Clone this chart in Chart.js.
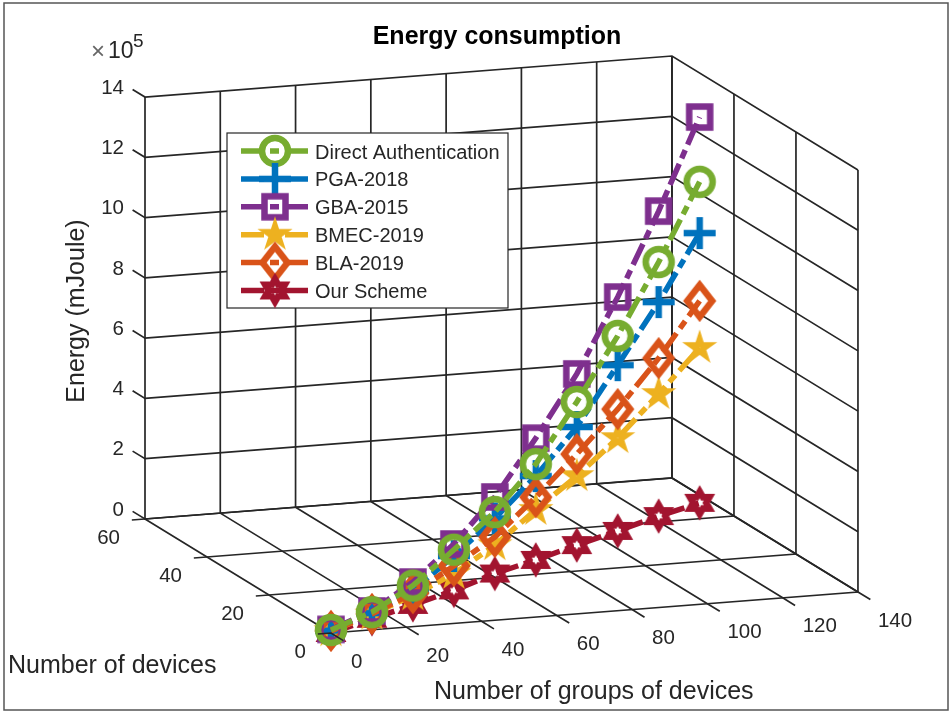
<!DOCTYPE html>
<html>
<head>
<meta charset="utf-8">
<title>Energy consumption</title>
<script src="https://cdn.jsdelivr.net/npm/chart.js@4"></script>
<style>
html, body { margin: 0; padding: 0; background: #fff; }
canvas { display: block; }
</style>
</head>
<body>
<canvas id="chart" width="949" height="711"></canvas>
<script>
// values
const groups = [0, 15, 30, 45, 60, 75, 90, 105, 120, 135];
const devices = [0, 5, 10, 15, 20, 25, 30, 35, 40, 45];

const directAuth = [0.10, 0.23, 0.65, 1.38, 2.17, 3.30, 4.90, 6.63, 8.62, 10.82];
const pga2018 = [0.08, 0.20, 0.50, 1.17, 1.96, 2.90, 4.07, 5.66, 7.29, 9.12];
const gba2015 = [0.12, 0.27, 0.77, 1.57, 2.67, 4.16, 5.83, 7.92, 10.31, 12.97];
const bmec2019 = [0.06, 0.15, 0.33, 0.58, 1.07, 1.78, 2.44, 3.24, 4.24, 5.31];
const bla2019 = [0.07, 0.17, 0.40, 0.84, 1.34, 2.20, 3.17, 4.20, 5.43, 6.87];
const ourScheme = [0.00, 0.01, 0.01, 0.03, 0.13, 0.12, 0.15, 0.16, 0.19, 0.17];

const xTicks = [0, 20, 40, 60, 80, 100, 120, 140];
const yTicks = [0, 20, 40, 60];
const zTicks = [0, 2, 4, 6, 8, 10, 12, 14];

const seriesNames = ['Direct Authentication', 'PGA-2018', 'GBA-2015', 'BMEC-2019', 'BLA-2019', 'Our Scheme'];
const seriesValues = [directAuth, pga2018, gba2015, bmec2019, bla2019, ourScheme];
const seriesColors = ['#77ac30', '#0072bd', '#7e2f8e', '#edb120', '#d95319', '#a2142f'];
const seriesMarkers = ['circle', 'plus', 'square', 'pentagram', 'diamond', 'hexagram'];
const seriesOrder = [1, 4, 2, 5, 3, 6]; // lower is drawn later

const textColor = '#262626';
const dash = [23, 6, 9, 6];

// MATLAB view of the box, flattened on the page
function project(x, y, z) {
    return {
        x: 331 + 3.764 * x - 3.1 * y,
        y: 633 - 0.293 * x - 1.9 * y - 30.14 * z
    };
}

function starPath(ctx, n, R, r) {
    ctx.beginPath();
    for (let i = 0; i < n * 2; i++) {
        const rad = i % 2 ? r : R;
        const a = -Math.PI / 2 + i * Math.PI / n;
        const px = rad * Math.cos(a), py = rad * Math.sin(a);
        if (i == 0) ctx.moveTo(px, py); else ctx.lineTo(px, py);
    }
    ctx.closePath();
}

function makeMarker(kind, color) {
    const c = document.createElement('canvas');
    c.width = 48;
    c.height = 48;
    const ctx = c.getContext('2d');
    ctx.translate(24, 24);
    ctx.strokeStyle = color;
    ctx.lineWidth = 6.5;
    ctx.lineJoin = 'miter';
    ctx.miterLimit = 4;
    if (kind == 'circle') {
        ctx.beginPath();
        ctx.arc(0, 0, 13, 0, Math.PI * 2);
    } else if (kind == 'plus') {
        ctx.beginPath();
        ctx.moveTo(-16, 0); ctx.lineTo(16, 0);
        ctx.moveTo(0, -16); ctx.lineTo(0, 16);
    } else if (kind == 'square') {
        ctx.beginPath();
        ctx.rect(-10.5, -10.5, 21, 21);
    } else if (kind == 'diamond') {
        ctx.beginPath();
        ctx.moveTo(0, -16); ctx.lineTo(12.5, 0); ctx.lineTo(0, 16); ctx.lineTo(-12.5, 0);
        ctx.closePath();
    } else if (kind == 'pentagram') {
        ctx.lineWidth = 5.5;
        starPath(ctx, 5, 9.5, 3.6);
    } else {
        starPath(ctx, 6, 11.3, 6.5);
    }
    ctx.stroke();
    return c;
}

const markers = seriesMarkers.map((m, i) => makeMarker(m, seriesColors[i]));

const datasets = [];

function addGridLine(points, order) {
    datasets.push({
        data: points.map(p => project(p[0], p[1], p[2])),
        showLine: true,
        borderColor: textColor,
        borderWidth: 1.7,
        pointRadius: 0,
        pointHitRadius: 0,
        order: order
    });
}

// floor, back wall, side wall and the little tick stubs
xTicks.forEach(t => {
    addGridLine([[t, 60, 14], [t, 60, 0], [t, 0, 0], [t, -4, 0]], 10);
});
yTicks.forEach(t => {
    addGridLine([[-3.5, t, 0], [140, t, 0], [140, t, 14]], 10);
});
zTicks.forEach(t => {
    addGridLine([[0, 64, t], [0, 60, t], [140, 60, t], [140, 0, t]], 10);
});

seriesNames.forEach((name, i) => {
    datasets.push({
        label: name,
        data: seriesValues[i].map((v, j) => project(groups[j], devices[j], v)),
        showLine: true,
        borderColor: seriesColors[i],
        backgroundColor: seriesColors[i],
        borderWidth: 5.5,
        borderDash: dash,
        pointStyle: markers[i],
        pointRadius: 16,
        order: seriesOrder[i]
    });
});

// the corner ticks sit above the first markers
addGridLine([[-3.5, 0, 0], [0, 0, 0], [0, -4, 0]], 0);

function drawText(ctx, str, x, y, font, align, color) {
    ctx.font = font;
    ctx.textAlign = align || 'left';
    ctx.textBaseline = 'middle';
    ctx.fillStyle = color || textColor;
    ctx.fillText(str, x, y);
}

const annotations = {
    id: 'annotations',
    afterDraw(chart) {
        const ctx = chart.ctx;
        const tickFont = '20.5px "Liberation Sans"';
        const labelFont = '25px "Liberation Sans"';
        ctx.save();

        // frame of the figure
        ctx.strokeStyle = '#555';
        ctx.lineWidth = 1.5;
        ctx.strokeRect(4, 3, 944, 707);

        xTicks.forEach(t => {
            const p = project(t, 0, 0);
            drawText(ctx, String(t), p.x + 20, p.y + 29, tickFont, 'left');
        });
        yTicks.forEach(t => {
            const p = project(0, t, 0);
            drawText(ctx, String(t), p.x - 25, p.y + 19, tickFont, 'right');
        });
        zTicks.forEach(t => {
            const p = project(0, 60, t);
            drawText(ctx, String(t), p.x - 21, p.y - 9, tickFont, 'right');
        });

        drawText(ctx, 'Energy consumption', 497, 37, 'bold 25px "Liberation Sans"', 'center', '#000');
        drawText(ctx, '×', 98, 52, '24px "Liberation Sans"', 'center', '#666');
        drawText(ctx, '10', 108, 52, '23px "Liberation Sans"', 'left');
        drawText(ctx, '5', 133, 42, '19px "Liberation Sans"', 'left');
        drawText(ctx, 'Number of devices', 8, 666, labelFont, 'left');
        drawText(ctx, 'Number of groups of devices', 434, 692, labelFont, 'left');

        ctx.save();
        ctx.translate(77, 311);
        ctx.rotate(-Math.PI / 2);
        drawText(ctx, 'Energy (mJoule)', 0, 0, labelFont, 'center');
        ctx.restore();

        // legend box
        ctx.fillStyle = '#fff';
        ctx.fillRect(227, 133, 281, 175);
        ctx.strokeStyle = textColor;
        ctx.lineWidth = 1.2;
        ctx.strokeRect(227, 133, 281, 175);
        seriesNames.forEach((name, i) => {
            const rowY = 151 + i * 27.9;
            ctx.save();
            ctx.strokeStyle = seriesColors[i];
            ctx.lineWidth = 5.5;
            ctx.setLineDash(dash);
            ctx.beginPath();
            ctx.moveTo(241, rowY);
            ctx.lineTo(308, rowY);
            ctx.stroke();
            ctx.restore();
            ctx.drawImage(markers[i], 275 - 24, rowY - 24);
            drawText(ctx, name, 315, rowY + 2, '20px "Liberation Sans"', 'left');
        });
        ctx.restore();
    }
};

new Chart(document.getElementById('chart').getContext('2d'), {
    type: 'scatter',
    data: { datasets: datasets },
    plugins: [annotations],
    options: {
        responsive: false,
        animation: false,
        layout: { padding: 0, autoPadding: false },
        plugins: {
            legend: { display: false },
            title: { display: false },
            tooltip: { enabled: false }
        },
        scales: {
            x: { type: 'linear', min: 0, max: 949, display: false },
            y: { type: 'linear', min: 0, max: 711, reverse: true, display: false }
        }
    }
});
</script>
</body>
</html>
